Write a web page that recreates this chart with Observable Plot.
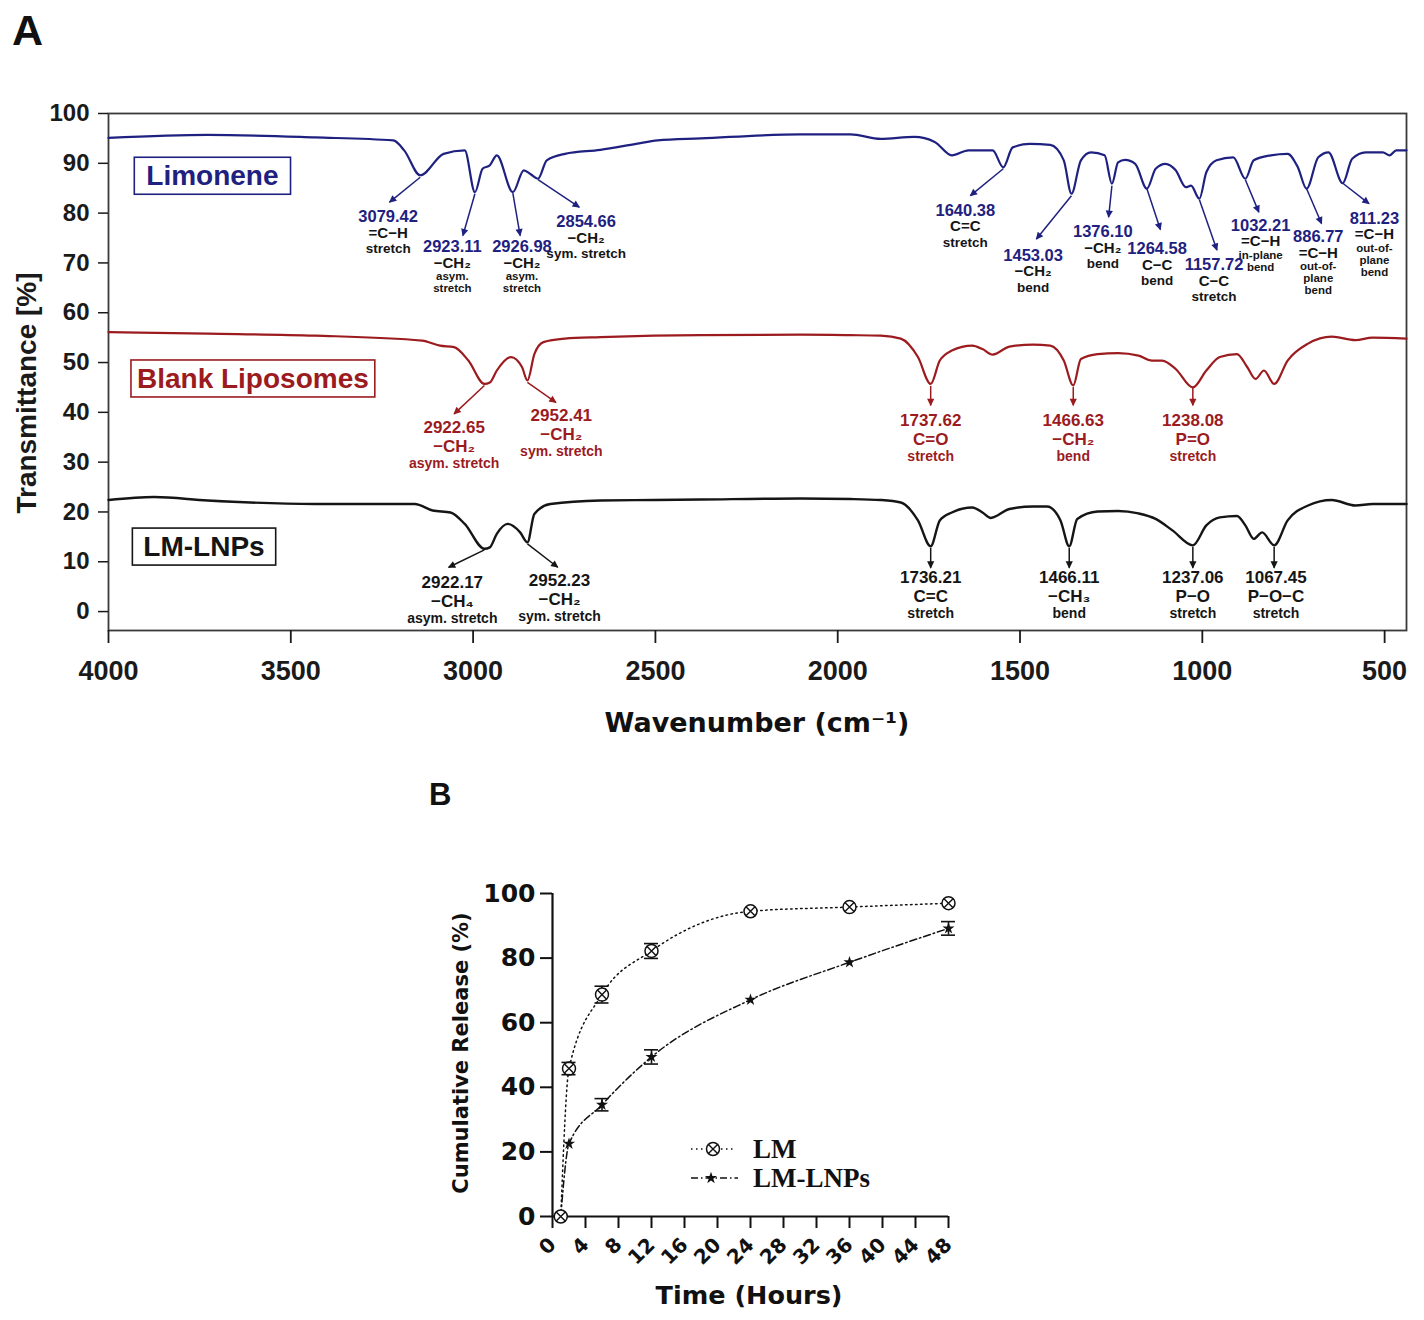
<!DOCTYPE html>
<html><head><meta charset="utf-8">
<script src="https://cdn.jsdelivr.net/npm/d3@7"></script>
<script src="https://cdn.jsdelivr.net/npm/@observablehq/plot@0.6"></script>
<style>
body{margin:0;background:#fff;}
#page{position:relative;width:1424px;height:1320px;overflow:hidden;background:#fff;}
#page > svg{position:absolute;}
</style></head><body><div id="page"></div>
<script>
// ---------- Panel A data (FTIR spectra) ----------
const limoneneWn = [4000,3728,3434,3219,3189,3145,3081,3023,2995,2974,2954,2935,2891,2861,2842,2822,2798,2748,2651,2553,2494,2376,2102,1965,1882,1790,1734,1687,1641,1575,1546,1520,1473,1417,1380,1359,1333,1305,1268,1248,1231,1212,1184,1152,1128,1101,1073,1045,1031,1008,989,961,915,882,859,812,766,738,714,682,654,615,589,552,505,486,468,440];
const limoneneT  = [95.1,95.7,95.2,94.6,92.6,87.6,91.9,92.6,84.2,88.9,89.6,91.6,84.2,88.6,87.8,86.9,90.6,91.9,92.7,93.9,94.6,95.0,95.8,95.8,94.9,95.3,94.3,91.6,92.6,92.6,89.2,93.2,93.9,93.7,90.6,83.9,90.6,92.2,91.6,85.9,90.2,90.7,89.9,84.9,88.9,89.9,88.6,85.2,85.5,82.9,88.2,90.6,91.2,86.9,90.6,91.6,91.9,89.2,84.9,91.2,92.2,86.0,90.9,92.2,92.2,91.6,92.6,92.6];
const blankWn = [4000,3728,3434,3140,3091,3052,3013,2969,2954,2935,2896,2866,2851,2832,2807,2748,2651,2504,2376,2102,1965,1882,1827,1780,1745,1720,1687,1631,1603,1575,1529,1464,1417,1380,1354,1333,1287,1231,1175,1138,1110,1073,1026,989,952,905,877,854,831,803,766,710,645,580,533,440];
const blankT  = [56.1,55.8,55.4,54.4,53.4,53.1,50.4,45.7,46.0,48.4,51.1,49.1,46.4,51.7,54.1,54.8,55.1,55.4,55.5,55.6,55.5,55.4,54.8,51.1,45.7,50.4,52.4,53.4,52.7,51.6,53.2,53.6,53.4,50.4,45.4,50.7,51.7,51.9,51.4,50.4,50.4,48.7,45.0,48.4,51.1,51.7,49.1,46.7,48.4,45.7,50.4,53.8,55.2,54.5,55.0,54.8];
const lnpWn = [4000,3875,3728,3434,3160,3111,3062,3023,2969,2954,2935,2905,2871,2851,2832,2788,2651,2504,2376,2102,1965,1882,1827,1780,1745,1720,1687,1631,1603,1580,1529,1464,1426,1389,1365,1343,1287,1231,1175,1128,1082,1026,989,952,905,882,859,836,803,766,710,645,580,533,440];
const lnpT  = [22.4,23.0,22.3,21.6,21.6,20.3,19.9,17.6,12.6,12.9,15.6,17.6,15.9,13.9,19.6,21.6,22.3,22.4,22.5,22.7,22.6,22.4,21.9,18.3,13.1,18.3,19.9,20.9,19.9,18.8,20.6,21.1,21.1,18.3,13.1,18.6,20.1,20.2,19.7,18.6,16.3,13.3,17.3,18.9,19.2,17.3,14.6,15.9,13.3,18.3,21.3,22.4,21.3,21.6,21.6];

const seriesNames = ["Limonene","Blank Liposomes","LM-LNPs"];
const wnTicks = [4000,3500,3000,2500,2000,1500,1000,500];
const transTicks = [0,10,20,30,40,50,60,70,80,90,100];

// Peak annotations: label anchor (x,y) and arrow from (x1,y1) to (x2,y2), in wavenumber / % units
const limAnn = [
  {x:3233,y:79.2,num:"3079.42",name:"=C−H",desc:["stretch"],x1:3145,y1:87.2,x2:3229,y2:82.2},
  {x:3057,y:73.2,num:"2923.11",name:"−CH₂",desc:["asym.","stretch"],x1:2995,y1:83.9,x2:3028,y2:75.5},
  {x:2866,y:73.2,num:"2926.98",name:"−CH₂",desc:["asym.","stretch"],x1:2891,y1:84.0,x2:2871,y2:75.5},
  {x:2690,y:78.2,num:"2854.66",name:"−CH₂",desc:["sym. stretch"],x1:2822,y1:86.7,x2:2709,y2:81.2},
  {x:1650,y:80.5,num:"1640.38",name:"C=C",desc:["stretch"],x1:1546,y1:88.9,x2:1636,y2:83.5},
  {x:1464,y:71.5,num:"1453.03",name:"−CH₂",desc:["bend"],x1:1359,y1:83.5,x2:1455,y2:74.8},
  {x:1273,y:76.2,num:"1376.10",name:"−CH₂",desc:["bend"],x1:1248,y1:85.5,x2:1257,y2:79.2},
  {x:1124,y:72.8,num:"1264.58",name:"C−C",desc:["bend"],x1:1152,y1:84.9,x2:1115,y2:76.7},
  {x:968,y:69.6,num:"1157.72",name:"C−C",desc:["stretch"],x1:1008,y1:82.7,x2:960,y2:72.6},
  {x:840,y:77.5,num:"1032.21",name:"=C−H",desc:["in-plane","bend"],x1:882,y1:86.7,x2:845,y2:80.2},
  {x:682,y:75.2,num:"886.77",name:"=C−H",desc:["out-of-","plane","bend"],x1:714,y1:84.9,x2:673,y2:77.9},
  {x:528,y:78.9,num:"811.23",name:"=C−H",desc:["out-of-","plane","bend"],x1:613,y1:85.9,x2:543,y2:81.9}
];
const blankAnn = [
  {x:3052,y:37.0,num:"2922.65",name:"−CH₂",desc:["asym. stretch"],x1:2969,y1:45.4,x2:3052,y2:39.7},
  {x:2758,y:39.4,num:"2952.41",name:"−CH₂",desc:["sym. stretch"],x1:2851,y1:46.0,x2:2773,y2:42.0},
  {x:1745,y:38.4,num:"1737.62",name:"C=O",desc:["stretch"],x1:1745,y1:45.3,x2:1745,y2:41.4},
  {x:1354,y:38.4,num:"1466.63",name:"−CH₂",desc:["bend"],x1:1354,y1:45.1,x2:1354,y2:41.4},
  {x:1026,y:38.4,num:"1238.08",name:"P=O",desc:["stretch"],x1:1026,y1:44.9,x2:1026,y2:41.4}
];
const lnpAnn = [
  {x:3057,y:5.9,num:"2922.17",name:"−CH₄",desc:["asym. stretch"],x1:2969,y1:12.4,x2:3067,y2:8.9},
  {x:2763,y:6.2,num:"2952.23",name:"−CH₂",desc:["sym. stretch"],x1:2851,y1:13.6,x2:2768,y2:8.9},
  {x:1745,y:6.9,num:"1736.21",name:"C=C",desc:["stretch"],x1:1745,y1:12.8,x2:1745,y2:8.8},
  {x:1365,y:6.9,num:"1466.11",name:"−CH₃",desc:["bend"],x1:1365,y1:12.8,x2:1365,y2:8.8},
  {x:1026,y:6.9,num:"1237.06",name:"P−O",desc:["stretch"],x1:1026,y1:13.0,x2:1026,y2:8.8},
  {x:798,y:6.9,num:"1067.45",name:"P−O−C",desc:["stretch"],x1:803,y1:13.0,x2:803,y2:8.8}
];

// ---------- Panel B data (release profile) ----------
const timeH      = [1, 2, 6, 12, 24, 36, 48];
const lmRelease  = [0, 45.8, 68.7, 82.2, 94.5, 95.8, 97.0];
const lmErr      = [0, 1.9, 2.6, 2.3, 0.6, 0.6, 0.6];
const lnpRelease = [0, 22.5, 34.6, 49.4, 67.1, 78.7, 89.2];
const lnpErr     = [0, 0.5, 1.9, 2.2, 0.5, 0.5, 2.1];
const hourTicks  = [0,4,8,12,16,20,24,28,32,36,40,44,48];
const relTicks   = [0,20,40,60,80,100];

// ---------- build ----------
const page = document.getElementById("page");
const NAVY = "#1f2180", RED = "#9b1b1f", BLK = "#151515";
const spec = (w, t) => w.map((v, i) => ({wn: v, t: t[i]}));

// series label layout (wavenumber, %), box padding
const labelPos = [{x:3715,y:87.4,c:NAVY,pad:12},{x:3604,y:46.7,c:RED,pad:6},{x:3738,y:12.95,c:BLK,pad:11}];

function annMarks(list, o) {
  const m = [
    Plot.link(list, {x1:"x1", y1:"y1", x2:"x2", y2:"y2", stroke:o.arrow, strokeWidth:1.5, markerEnd:"arrow"}),
    Plot.text(list, {x:"x", y:"y", text:"num", fill:o.numColor, fontSize:o.numSize, fontWeight:"bold"}),
    Plot.text(list, {x:"x", y:"y", text:"name", fill:o.nameColor, fontSize:o.nameSize, fontWeight:"bold", dy:o.nameDy})
  ];
  const one = list.filter(d => d.desc.length === 1);
  if (one.length) m.push(Plot.text(one, {x:"x", y:"y", text:d => d.desc[0], fill:o.nameColor, fontSize:o.descSize, fontWeight:"bold", dy:o.descDy}));
  for (let i = 0; i < 3; i++) {
    const multi = list.filter(d => d.desc.length > 1 && d.desc.length > i);
    if (multi.length) m.push(Plot.text(multi, {x:"x", y:"y", text:d => d.desc[i], fill:o.nameColor, fontSize:o.smallSize, fontWeight:"bold", dy:o.multiDy + i*o.step}));
  }
  return m;
}

const plotA = Plot.plot({
  width:1424, height:760, marginLeft:108, marginRight:18, marginTop:113, marginBottom:130,
  x:{domain:[4000,440]}, y:{domain:[-3.8,100]},
  style:{fontFamily:"'Liberation Sans', Arial, sans-serif", background:"transparent", overflow:"visible", color:"#1a1a1a"},
  marks:[
    Plot.frame({stroke:"#3a3a3a", strokeWidth:1.8}),
    Plot.axisY({ticks:transTicks, tickSize:10, tickPadding:9, fontSize:24, fontWeight:"bold", label:null, strokeWidth:1.5}),
    Plot.axisX({ticks:wnTicks, tickSize:13, tickPadding:17, fontSize:27, fontWeight:"bold", label:null, tickFormat:d => String(d), strokeWidth:1.8}),
    Plot.line(spec(limoneneWn, limoneneT), {x:"wn", y:"t", stroke:NAVY, strokeWidth:2.2, curve:"monotone-x"}),
    Plot.line(spec(blankWn, blankT), {x:"wn", y:"t", stroke:RED, strokeWidth:2.2, curve:"monotone-x"}),
    Plot.line(spec(lnpWn, lnpT), {x:"wn", y:"t", stroke:BLK, strokeWidth:2.4, curve:"monotone-x"}),
    Plot.text(seriesNames, {x:(d,i)=>labelPos[i].x, y:(d,i)=>labelPos[i].y, text:d=>d, fill:(d,i)=>labelPos[i].c, fontSize:28, fontWeight:"bold"}),
    ...annMarks(limAnn, {arrow:NAVY, numColor:NAVY, nameColor:BLK, numSize:16.5, nameSize:15, descSize:13.5, smallSize:11.5, nameDy:16, descDy:32, multiDy:29.5, step:12}),
    ...annMarks(blankAnn, {arrow:RED, numColor:RED, nameColor:RED, numSize:17, nameSize:17, descSize:14, smallSize:14, nameDy:19, descDy:36, multiDy:36, step:12}),
    ...annMarks(lnpAnn, {arrow:BLK, numColor:BLK, nameColor:BLK, numSize:17, nameSize:17, descSize:14, smallSize:14, nameDy:19, descDy:36, multiDy:36, step:12})
  ]
});
plotA.style.left = "0px"; plotA.style.top = "0px";
page.append(plotA);

// filled arrowheads
plotA.querySelectorAll("marker").forEach(mk => {
  const c = mk.getAttribute("stroke") || "#000";
  mk.setAttribute("fill", c); mk.setAttribute("stroke", "none"); mk.setAttribute("overflow", "visible");
  mk.querySelectorAll("path").forEach(p => { p.setAttribute("d", "M-6.5,-3.6L1,0L-6.5,3.6Z"); p.setAttribute("stroke","none"); });
});

// boxes round series names
{
  const ys = plotA.scale("y");
  const sr = plotA.getBoundingClientRect();
  const g = d3.select(plotA).append("g");
  plotA.querySelectorAll("text").forEach(t => {
    const i = seriesNames.indexOf(t.textContent);
    if (i < 0) return;
    const r = t.getBoundingClientRect();
    const cy = ys.apply(labelPos[i].y);
    const p = labelPos[i].pad;
    g.append("rect").attr("x", r.left - sr.left - p).attr("y", cy - 18.5)
      .attr("width", r.width + 2 * p).attr("height", 37)
      .attr("fill", "none").attr("stroke", labelPos[i].c).attr("stroke-width", 1.6);
  });
}

// ---------- Panel B ----------
const lmRows = timeH.map((t, i) => ({t, v: lmRelease[i], e: lmErr[i]}));
const lnpRows = timeH.map((t, i) => ({t, v: lnpRelease[i], e: lnpErr[i]}));
const errRows = [...lmRows, ...lnpRows].filter(d => d.e > 1);
const capHalf = 0.85;

const plotB = Plot.plot({
  width:600, height:470, marginLeft:152, marginRight:52, marginTop:43, marginBottom:104,
  x:{domain:[0,48]}, y:{domain:[0,100]},
  style:{fontFamily:"'DejaVu Sans', sans-serif", background:"transparent", overflow:"visible", color:"#111"},
  marks:[
    Plot.axisY({ticks:relTicks, tickSize:12, tickPadding:5, fontSize:25, fontWeight:"bold", label:null, strokeWidth:2}),
    Plot.axisX({ticks:hourTicks, tickSize:12, tickPadding:13, tickRotate:-45, fontSize:20, fontWeight:"bold", label:null, strokeWidth:2}),
    Plot.ruleY([0], {x1:0, x2:48, strokeWidth:2.2}),
    Plot.ruleX([0], {y1:0, y2:100, strokeWidth:2.2}),
    Plot.line(lnpRows, {x:"t", y:"v", stroke:"#111", strokeWidth:1.5, strokeDasharray:"7,3,1.5,3", curve:"monotone-x"}),
    Plot.line(lmRows, {x:"t", y:"v", stroke:"#111", strokeWidth:1.5, strokeDasharray:"1.5,3.5", curve:"monotone-x"}),
    Plot.ruleX(errRows, {x:"t", y1:d => d.v - d.e, y2:d => d.v + d.e, stroke:"#111", strokeWidth:1.6}),
    Plot.dot(lnpRows, {x:"t", y:"v", symbol:"star", r:3.8, fill:"#111"}),
    Plot.dot(lmRows, {x:"t", y:"v", r:6.5, fill:"white", stroke:"#111", strokeWidth:1.5}),
    Plot.dot(lmRows, {x:"t", y:"v", symbol:"times", r:4.2, stroke:"#111", strokeWidth:1.4}),
    Plot.ruleY(errRows, {y:d => d.v + d.e, x1:d => d.t - capHalf, x2:d => d.t + capHalf, stroke:"#111", strokeWidth:1.6}),
    Plot.ruleY(errRows, {y:d => d.v - d.e, x1:d => d.t - capHalf, x2:d => d.t + capHalf, stroke:"#111", strokeWidth:1.6})
  ]
});
plotB.style.left = "400px"; plotB.style.top = "850px";
page.append(plotB);

// legend
{
  const lg = d3.select(plotB).append("g").attr("fill", "none").attr("stroke", "#111");
  lg.append("line").attr("x1", 291).attr("x2", 334).attr("y1", 299).attr("y2", 299).attr("stroke-width", 1.5).attr("stroke-dasharray", "1.5,3.5");
  lg.append("circle").attr("cx", 313).attr("cy", 299).attr("r", 6.5).attr("fill", "white").attr("stroke-width", 1.5);
  lg.append("path").attr("d", d3.symbol(d3.symbolTimes, Math.PI * 4.2 * 4.2)()).attr("transform", "translate(313,299)").attr("stroke-width", 1.4);
  lg.append("line").attr("x1", 291).attr("x2", 338).attr("y1", 328).attr("y2", 328).attr("stroke-width", 1.5).attr("stroke-dasharray", "7,3,1.5,3");
  lg.append("path").attr("d", d3.symbol(d3.symbolStar, Math.PI * 3.8 * 3.8)()).attr("transform", "translate(311,328)").attr("fill", "#111").attr("stroke", "none");
  const tf = "bold 27px 'Liberation Serif', 'Times New Roman', serif";
  lg.append("text").attr("x", 353).attr("y", 307.5).attr("text-anchor", "start").text("LM").attr("fill", "#111").attr("stroke", "none").style("font", tf);
  lg.append("text").attr("x", 353).attr("y", 336.5).attr("text-anchor", "start").text("LM-LNPs").attr("fill", "#111").attr("stroke", "none").style("font", tf);
}

// ---------- panel letters and axis titles ----------
{
  const ov = d3.create("svg").attr("width", 1424).attr("height", 1320).style("left", "0px").style("top", "0px").style("pointer-events", "none");
  const sans = "'Liberation Sans', Arial, sans-serif";
  ov.append("text").attr("x", 12).attr("y", 45).text("A").style("font", `bold 43px ${sans}`).attr("fill", "#111");
  ov.append("text").attr("x", 429).attr("y", 805).text("B").style("font", `bold 31px ${sans}`).attr("fill", "#111");
  ov.append("text").attr("transform", "translate(36,393) rotate(-90)").attr("text-anchor", "middle").text("Transmittance [%]").style("font", `bold 28px ${sans}`).attr("fill", "#1a1a1a");
  ov.append("text").attr("x", 757).attr("y", 732).attr("text-anchor", "middle").text("Wavenumber (cm⁻¹)").style("font", "bold 27px 'DejaVu Sans', sans-serif").attr("fill", "#111");
  ov.append("text").attr("x", 749).attr("y", 1304).attr("text-anchor", "middle").text("Time (Hours)").style("font", "bold 25.5px 'DejaVu Sans', sans-serif").attr("fill", "#111");
  ov.append("text").attr("transform", "translate(468,1053) rotate(-90)").attr("text-anchor", "middle").text("Cumulative Release (%)").style("font", "bold 21px 'DejaVu Sans', sans-serif").attr("fill", "#111");
  page.append(ov.node());
}
</script></body></html>
